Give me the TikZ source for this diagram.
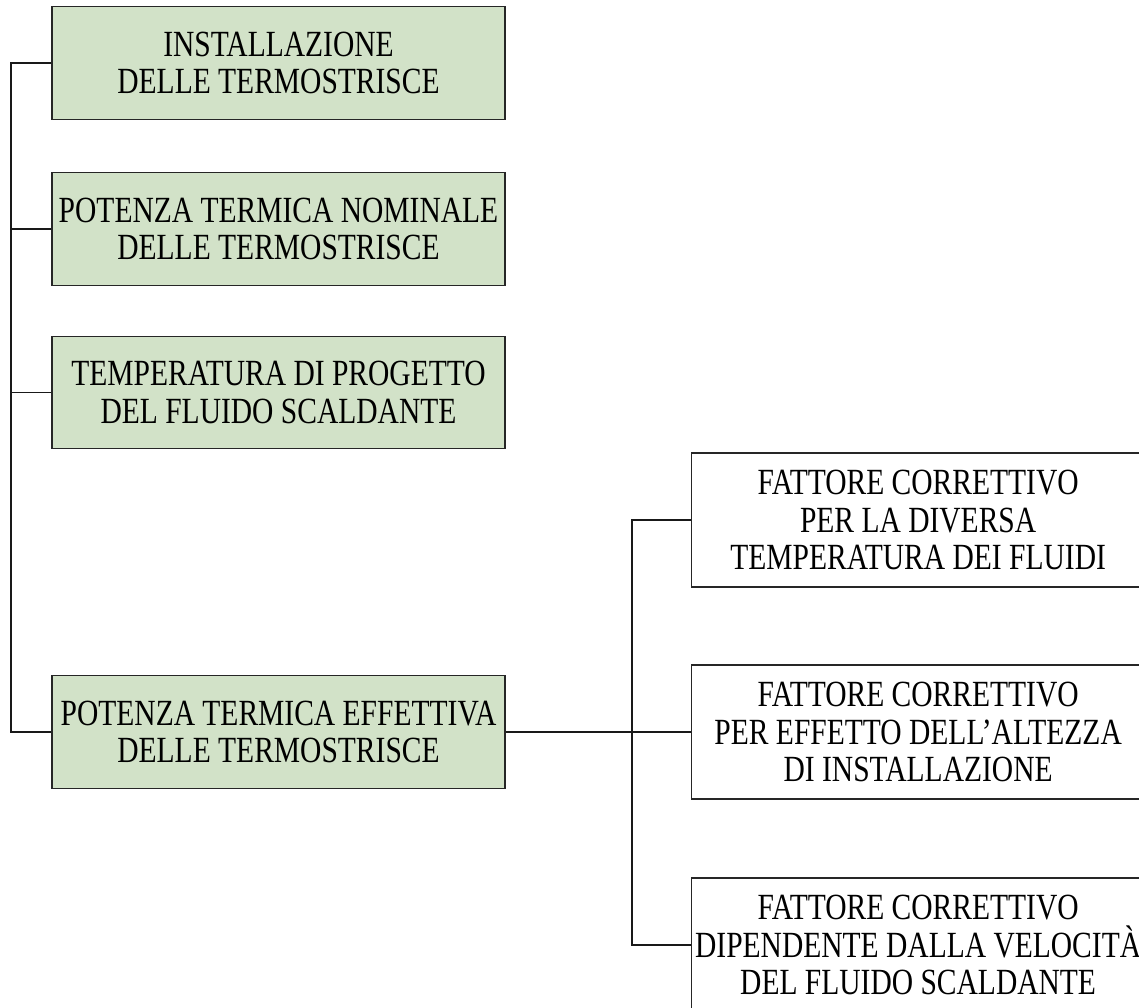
\documentclass[tikz,border=0pt]{standalone}
\usepackage{fontspec}
\setmainfont{Liberation Serif}[FakeStretch=0.80]

\definecolor{boxgreen}{RGB}{210,226,200}

\begin{document}
\begin{tikzpicture}[
        x=0.2mm, y=-0.2mm,
        box/.style={draw=black!85, line width=0.7pt, minimum width=90.6mm,
            align=center, inner sep=0pt,
            font=\fontsize{21}{21.3}\selectfont},
        mainbox/.style={box, fill=boxgreen, minimum height=22.5mm},
        factorbox/.style={box, fill=white, minimum height=26.8mm},
        link/.style={draw=black!90, line width=0.6pt}
    ]

\useasboundingbox (0,0) rectangle (1139,1007);
\clip (0,0) rectangle (1139,1007);

% left column
\node[mainbox] (inst) at (278.5,63) {INSTALLAZIONE\\DELLE TERMOSTRISCE};
\node[mainbox] (nom) at (278.5,229) {POTENZA TERMICA NOMINALE\\DELLE TERMOSTRISCE};
\node[mainbox] (temp) at (278.5,392.5) {TEMPERATURA DI PROGETTO\\DEL FLUIDO SCALDANTE};
\node[mainbox] (eff) at (278.5,732) {POTENZA TERMICA EFFETTIVA\\DELLE TERMOSTRISCE};

% correction factors
\node[factorbox, anchor=west] (fdiff) at (691,520) {FATTORE CORRETTIVO\\PER LA DIVERSA\\TEMPERATURA DEI FLUIDI};
\node[factorbox, anchor=west] (falt) at (691,732) {FATTORE CORRETTIVO\\PER EFFETTO DELL’ALTEZZA\\DI INSTALLAZIONE};
\node[factorbox, anchor=west] (fvel) at (691,945) {FATTORE CORRETTIVO\\DIPENDENTE DALLA VELOCITÀ\\DEL FLUIDO SCALDANTE};

\coordinate (bus) at (11,0);
\coordinate (bus2) at (632,0);

\draw[link] (inst.west) -- (inst.west -| bus) -- (eff.west -| bus) -- (eff.west);
\foreach \n in {nom,temp}
    \draw[link] (\n.west) -- (\n.west -| bus);

\draw[link] (eff.east) -- (falt.west);
\draw[link] (fdiff.west) -- (fdiff.west -| bus2) -- (fvel.west -| bus2) -- (fvel.west);

\end{tikzpicture}
\end{document}
